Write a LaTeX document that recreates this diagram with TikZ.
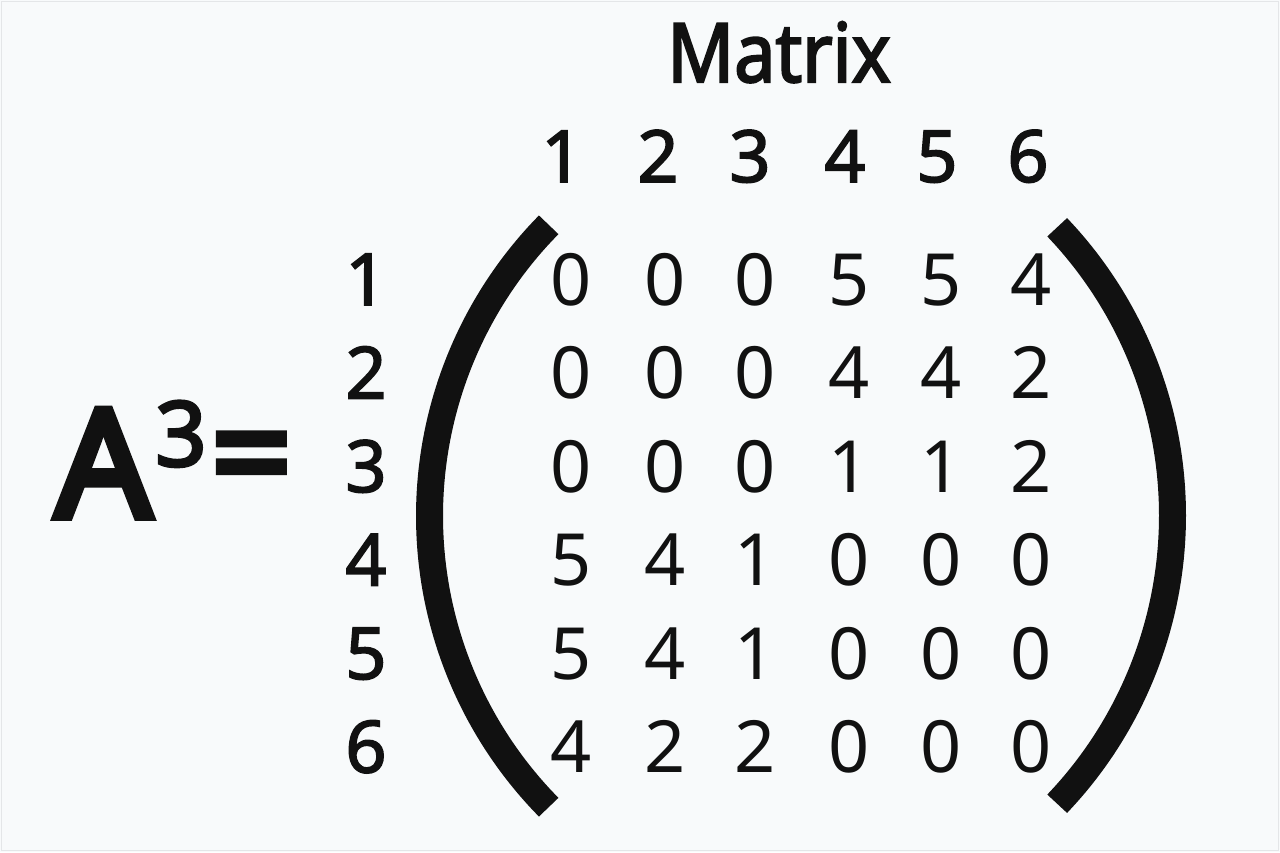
\documentclass[tikz,border=0pt]{standalone}
\usepackage{fontspec}
\setmainfont{Noto Sans}
\newfontfamily\titlefont{Noto Sans}[FakeStretch=0.9,FakeBold=2.5]
\newfontfamily\boldfont{Noto Sans}[FakeBold=2.2]
\newfontfamily\supfont{Noto Sans}[FakeBold=3.2]
\newfontfamily\heavyfont{Noto Sans}[FakeBold=5]
\definecolor{bg}{RGB}{248,250,251}
\definecolor{ink}{RGB}{17,17,17}
\definecolor{frame}{RGB}{228,230,232}
\begin{document}
\begin{tikzpicture}[x=1pt,y=-1pt,
  every node/.style={inner sep=0pt, outer sep=0pt, text=ink},
  entry/.style={anchor=base, font=\fontsize{72}{72}\selectfont},
  label/.style={anchor=base, font=\boldfont\fontsize{72}{72}\selectfont},
  paren/.style={draw=ink, line width=27pt, line cap=butt}]
\useasboundingbox (0,0) rectangle (1280,852);
\fill[bg] (0,0) rectangle (1280,852);
\draw[frame, line width=1.5pt] (1.5,1.5) rectangle (1278.5,850.5);
% title
\node[anchor=base, font=\titlefont\fontsize{82}{82}\selectfont] (title) at (779,82) {Matrix};
% column headers
\foreach \c/\x in {1/562,2/658,3/750,4/845,5/937,6/1028}
  \node[label] (col\c) at (\x,182) {\c};
% row labels
\foreach \r/\y in {1/305,2/398.5,3/492,4/585.5,5/679,6/772.5}
  \node[label] (row\r) at (366,\y) {\r};
% entries
\foreach \r/\y/\vals in {1/305/{0,0,0,5,5,4},2/398.5/{0,0,0,4,4,2},3/492/{0,0,0,1,1,2},4/585.5/{5,4,1,0,0,0},5/679/{5,4,1,0,0,0},6/772.5/{4,2,2,0,0,0}}{
  \foreach \v [count=\c] in \vals {
    \pgfmathsetmacro{\xx}{{571,665,755,849,941,1031}[\c-1]}
    \node[entry] (e\r\c) at (\xx,\y) {\v};
  }
}
% A^3 =
\node[anchor=base, font=\heavyfont\fontsize{150}{150}\selectfont] (A) at (103.5,517) {A};
\node[anchor=base, font=\supfont\fontsize{90}{90}\selectfont] (sup) at (181,466) {3};
\node[font=\heavyfont\fontsize{140}{140}\selectfont] (eq) at (251.5,468) {=};
% parentheses
\draw[paren] plot[smooth, domain=135.5:224.5, samples=45] ({845+415.5*cos(\x)},{516+415.5*sin(\x)});
\draw[paren] plot[smooth, domain=-43.6:43.6, samples=45] ({754.5+418*cos(\x)},{515.5+418*sin(\x)});
\end{tikzpicture}
\end{document}
